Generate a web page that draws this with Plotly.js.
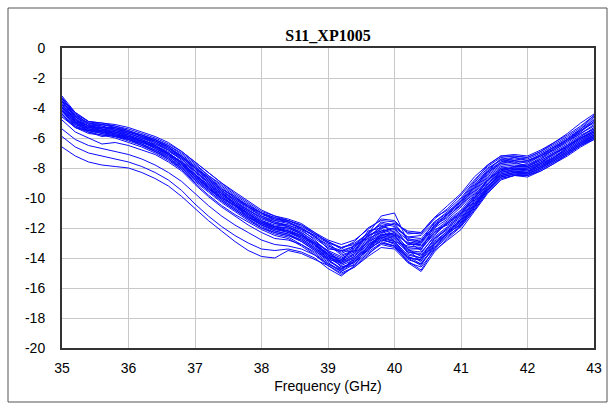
<!DOCTYPE html>
<html>
<head>
<meta charset="utf-8">
<script src="https://cdn.plot.ly/plotly-3.0.1.min.js"></script>
<style>html,body{margin:0;padding:0;background:#fff;}#chart{width:615px;height:410px;}</style>
</head>
<body>
<div id="chart"></div>
<script>
const freq = [35.0,35.2,35.4,35.6,35.8,36.0,36.2,36.4,36.6,36.8,37.0,37.2,37.4,37.6,37.8,38.0,38.2,38.4,38.6,38.8,39.0,39.2,39.4,39.6,39.8,40.0,40.2,40.4,40.6,40.8,41.0,41.2,41.4,41.6,41.8,42.0,42.2,42.4,42.6,42.8,43.0];

const s1 = [-3.2,-4.3,-4.9,-5.0,-5.1,-5.3,-5.6,-5.9,-6.3,-6.9,-7.6,-8.3,-9.0,-9.7,-10.3,-10.9,-11.2,-11.4,-11.7,-12.3,-12.8,-13.1,-12.8,-12.1,-11.4,-11.5,-12.4,-12.3,-11.3,-10.8,-10.0,-8.9,-7.8,-7.2,-7.1,-7.2,-6.8,-6.3,-5.8,-5.2,-4.5];
const s2 = [-3.4,-4.5,-5.0,-5.1,-5.3,-5.5,-5.8,-6.1,-6.5,-7.1,-7.8,-8.5,-9.2,-9.9,-10.5,-11.0,-11.4,-11.6,-12.0,-12.5,-13.0,-13.3,-13.0,-12.4,-11.7,-11.9,-12.6,-12.5,-11.6,-11.0,-10.3,-9.2,-8.1,-7.4,-7.3,-7.4,-7.0,-6.5,-6.0,-5.4,-4.6];
const s3 = [-3.6,-4.6,-5.1,-5.2,-5.4,-5.6,-5.9,-6.2,-6.7,-7.3,-8.1,-8.8,-9.5,-10.1,-10.7,-11.2,-11.6,-11.8,-12.2,-12.7,-13.3,-13.6,-13.2,-12.6,-11.9,-12.1,-12.8,-12.8,-11.9,-11.2,-10.5,-9.5,-8.4,-7.7,-7.6,-7.6,-7.2,-6.7,-6.2,-5.6,-4.9];
const s4 = [-3.5,-4.7,-5.2,-5.3,-5.4,-5.7,-6.0,-6.4,-6.8,-7.4,-8.2,-8.9,-9.6,-10.2,-10.8,-11.3,-11.7,-11.9,-12.3,-12.9,-13.5,-13.9,-13.5,-12.8,-12.2,-12.2,-13.1,-13.1,-12.2,-11.5,-10.8,-9.7,-8.6,-7.9,-7.8,-7.9,-7.5,-7.0,-6.5,-5.9,-5.4];
const s5 = [-3.8,-4.8,-5.2,-5.3,-5.5,-5.7,-6.0,-6.3,-6.8,-7.5,-8.3,-9.0,-9.7,-10.3,-10.9,-11.5,-11.8,-11.9,-12.3,-12.9,-13.6,-14.0,-13.6,-12.9,-12.3,-12.4,-13.0,-13.2,-12.3,-11.6,-10.9,-9.9,-8.7,-8.0,-7.9,-7.9,-7.5,-7.0,-6.5,-5.9,-5.3];
const s6 = [-3.9,-4.9,-5.3,-5.4,-5.6,-5.8,-6.1,-6.5,-7.0,-7.6,-8.4,-9.1,-9.8,-10.4,-11.0,-11.6,-11.9,-12.1,-12.5,-13.1,-13.7,-14.1,-13.7,-13.0,-12.4,-12.5,-13.3,-13.4,-12.4,-11.7,-11.0,-10.0,-8.9,-8.1,-8.0,-8.0,-7.6,-7.1,-6.6,-6.0,-5.5];
const s7 = [-4.0,-5.0,-5.3,-5.5,-5.7,-5.9,-6.2,-6.6,-7.1,-7.7,-8.5,-9.2,-9.9,-10.5,-11.1,-11.7,-12.0,-12.2,-12.6,-13.2,-13.8,-14.2,-13.8,-13.1,-12.5,-12.7,-13.5,-13.6,-12.6,-11.9,-11.3,-10.2,-9.1,-8.3,-8.1,-8.1,-7.7,-7.2,-6.7,-6.1,-5.6];
const s8 = [-4.1,-5.0,-5.4,-5.5,-5.7,-6.0,-6.3,-6.7,-7.2,-7.8,-8.6,-9.3,-10.0,-10.6,-11.2,-11.7,-12.1,-12.3,-12.7,-13.3,-13.9,-14.4,-14.0,-13.2,-12.6,-12.8,-13.6,-13.8,-12.8,-12.0,-11.4,-10.3,-9.2,-8.4,-8.2,-8.2,-7.8,-7.3,-6.8,-6.2,-5.7];
const s9 = [-4.3,-5.1,-5.4,-5.6,-5.8,-6.1,-6.4,-6.8,-7.3,-7.9,-8.7,-9.4,-10.1,-10.7,-11.3,-11.8,-12.2,-12.4,-12.8,-13.4,-14.0,-14.5,-14.1,-13.3,-12.7,-12.9,-13.8,-14.0,-12.9,-12.2,-11.6,-10.5,-9.4,-8.5,-8.3,-8.3,-7.9,-7.4,-6.9,-6.3,-5.8];
const s10 = [-4.4,-5.2,-5.5,-5.7,-5.9,-6.2,-6.5,-6.9,-7.4,-8.0,-8.8,-9.5,-10.2,-10.8,-11.4,-11.9,-12.3,-12.5,-12.9,-13.5,-14.2,-14.7,-14.2,-13.5,-12.8,-13.0,-13.9,-14.2,-13.1,-12.3,-11.8,-10.6,-9.5,-8.6,-8.4,-8.4,-8.0,-7.5,-7.0,-6.4,-5.9];
const s11 = [-4.6,-5.3,-5.6,-5.8,-6.0,-6.3,-6.6,-7.0,-7.5,-8.1,-8.9,-9.6,-10.3,-10.9,-11.5,-12.0,-12.4,-12.6,-13.1,-13.7,-14.4,-14.9,-14.4,-13.6,-13.0,-13.2,-14.1,-14.4,-13.3,-12.5,-11.9,-10.8,-9.6,-8.7,-8.5,-8.5,-8.1,-7.6,-7.1,-6.5,-6.0];
const s12 = [-3.3,-4.4,-5.1,-5.6,-5.9,-6.0,-6.2,-6.4,-6.8,-7.3,-8.0,-8.8,-9.5,-10.2,-10.8,-11.4,-11.7,-11.8,-12.1,-12.8,-13.6,-14.3,-13.1,-12.4,-11.2,-11.0,-12.9,-13.5,-11.8,-11.3,-10.4,-9.3,-8.3,-7.6,-7.5,-7.7,-7.2,-6.8,-6.2,-5.7,-5.1];
const s13 = [-3.7,-4.9,-5.6,-5.9,-5.8,-5.9,-6.2,-6.6,-7.0,-7.6,-8.2,-8.9,-9.6,-10.4,-11.1,-11.6,-11.9,-12.2,-12.7,-13.3,-14.0,-14.2,-13.3,-12.5,-12.1,-12.9,-13.2,-13.3,-12.1,-11.8,-11.2,-10.1,-8.8,-8.2,-7.9,-7.8,-7.4,-6.9,-6.4,-5.8,-5.4];
const s14 = [-3.9,-5.0,-5.3,-5.3,-5.4,-5.6,-5.9,-6.3,-6.7,-7.2,-7.9,-8.7,-9.5,-10.1,-10.6,-11.2,-11.5,-11.7,-12.0,-12.6,-13.2,-13.5,-13.2,-12.3,-11.8,-12.3,-13.0,-12.9,-11.6,-10.9,-10.2,-9.1,-8.2,-7.4,-7.6,-7.9,-7.4,-6.7,-6.1,-5.4,-4.8];
const s15 = [-4.2,-5.1,-5.5,-5.5,-5.6,-5.9,-6.1,-6.5,-7.0,-7.7,-8.6,-9.3,-9.9,-10.5,-11.2,-11.8,-12.1,-12.2,-12.5,-13.0,-13.8,-14.6,-14.3,-13.4,-12.4,-12.6,-13.4,-14.3,-13.4,-12.3,-11.4,-10.2,-9.0,-8.2,-8.0,-8.1,-7.8,-7.3,-6.6,-6.0,-5.6];
const s16 = [-3.4,-4.4,-4.9,-5.0,-5.2,-5.4,-5.7,-6.0,-6.4,-6.9,-7.6,-8.3,-9.0,-9.6,-10.2,-10.8,-11.2,-11.5,-11.9,-12.4,-12.9,-13.3,-13.1,-12.7,-11.9,-11.7,-12.2,-12.3,-11.3,-10.5,-9.7,-8.6,-7.8,-7.2,-7.2,-7.3,-6.9,-6.3,-5.7,-5.0,-4.4];
const s17 = [-4.5,-5.3,-5.7,-5.8,-5.9,-6.1,-6.4,-6.9,-7.4,-8.1,-9.0,-9.8,-10.5,-11.1,-11.6,-12.1,-12.5,-12.7,-13.2,-13.8,-14.5,-15.1,-14.6,-13.8,-13.0,-13.2,-14.3,-14.6,-13.5,-12.8,-12.1,-10.9,-9.7,-8.8,-8.5,-8.5,-8.2,-7.7,-7.1,-6.5,-6.1];
const s18 = [-3.6,-4.8,-5.4,-5.4,-5.5,-5.8,-6.1,-6.5,-6.9,-7.4,-8.2,-9.0,-9.7,-10.3,-10.8,-11.3,-11.6,-11.9,-12.4,-13.1,-13.8,-14.1,-13.4,-12.7,-12.3,-12.0,-13.1,-13.0,-12.0,-11.4,-10.6,-9.6,-8.5,-7.8,-7.7,-7.8,-7.3,-6.8,-6.3,-5.7,-5.2];
const s19 = [-4.0,-5.0,-5.5,-5.7,-5.9,-6.1,-6.3,-6.6,-7.1,-7.9,-8.7,-9.4,-10.0,-10.5,-11.0,-11.6,-12.0,-12.2,-12.5,-13.0,-13.7,-14.6,-14.5,-13.2,-12.5,-12.4,-13.7,-14.0,-12.7,-12.1,-11.5,-10.4,-9.3,-8.3,-8.1,-8.2,-7.9,-7.3,-6.8,-6.2,-5.8];
const s20 = [-3.5,-4.6,-5.0,-5.2,-5.5,-5.7,-6.0,-6.2,-6.6,-7.2,-8.0,-8.6,-9.3,-10.0,-10.6,-11.1,-11.4,-11.5,-11.8,-12.3,-13.0,-13.7,-13.3,-12.5,-11.6,-11.8,-12.7,-12.9,-12.0,-11.0,-10.1,-9.0,-8.0,-7.5,-7.4,-7.5,-7.1,-6.6,-6.1,-5.5,-5.0];
const s21 = [-3.3,-4.6,-5.2,-5.1,-5.2,-5.5,-5.9,-6.1,-6.6,-7.2,-7.9,-8.6,-9.4,-9.9,-10.6,-11.0,-11.5,-11.6,-12.1,-12.5,-13.4,-13.5,-13.6,-12.2,-12.0,-11.7,-12.8,-13.0,-11.8,-11.1,-10.2,-9.3,-8.2,-7.6,-7.3,-7.5,-7.2,-6.6,-6.1,-5.6,-4.7];
const s22 = [-3.8,-4.7,-5.4,-5.6,-5.6,-5.8,-6.3,-6.5,-7.1,-7.6,-8.5,-9.1,-9.7,-10.4,-10.9,-11.5,-11.9,-12.0,-12.4,-13.0,-13.5,-14.4,-13.9,-12.9,-12.0,-12.5,-13.6,-13.7,-12.5,-11.6,-11.0,-9.8,-8.8,-8.0,-8.1,-8.0,-7.7,-7.0,-6.6,-6.0,-5.5];
const s23 = [-4.2,-4.9,-5.2,-5.4,-5.8,-6.0,-6.2,-6.7,-7.1,-7.7,-8.4,-9.3,-10.0,-10.5,-11.3,-11.7,-12.0,-12.3,-12.6,-13.1,-14.1,-14.3,-13.9,-13.1,-12.6,-12.6,-13.4,-13.9,-12.7,-12.0,-11.1,-10.0,-9.1,-8.2,-8.2,-8.3,-7.7,-7.3,-6.7,-6.1,-5.7];
const s24 = [-3.6,-4.5,-5.0,-5.3,-5.3,-5.6,-5.8,-6.2,-6.6,-7.3,-8.0,-8.7,-9.4,-10.0,-10.5,-11.0,-11.3,-11.6,-12.0,-12.6,-13.1,-13.8,-13.5,-12.5,-12.2,-12.0,-12.6,-12.7,-11.7,-11.1,-10.4,-9.4,-8.3,-7.7,-7.5,-7.6,-7.1,-6.6,-6.1,-5.5,-4.9];
const s25 = [-4.1,-5.2,-5.6,-5.6,-5.7,-6.0,-6.4,-6.8,-7.2,-7.8,-8.6,-9.3,-10.1,-10.7,-11.3,-11.8,-12.2,-12.4,-12.9,-13.5,-14.1,-14.8,-14.0,-13.3,-12.6,-12.9,-14.0,-14.1,-13.0,-12.2,-11.5,-10.4,-9.2,-8.5,-8.3,-8.4,-8.0,-7.4,-6.9,-6.3,-5.9];
const s26 = [-3.4,-4.3,-4.9,-5.1,-5.3,-5.6,-5.8,-6.1,-6.5,-7.0,-7.7,-8.5,-9.1,-9.8,-10.4,-11.0,-11.3,-11.5,-11.8,-12.4,-12.9,-13.4,-12.9,-12.0,-11.5,-11.6,-12.3,-12.4,-11.4,-10.7,-9.8,-8.8,-7.9,-7.3,-7.2,-7.3,-6.9,-6.4,-5.9,-5.3,-4.5];
const s27 = [-3.9,-4.8,-5.2,-5.4,-5.6,-5.9,-6.2,-6.6,-7.0,-7.6,-8.5,-9.2,-9.8,-10.4,-11.1,-11.6,-11.9,-12.0,-12.4,-13.1,-13.9,-14.3,-13.7,-12.9,-12.5,-12.3,-13.4,-13.4,-12.3,-11.7,-11.1,-10.0,-8.8,-8.1,-8.0,-8.0,-7.6,-7.1,-6.5,-6.0,-5.6];
const s28 = [-4.4,-5.3,-5.5,-5.6,-5.8,-6.1,-6.5,-6.9,-7.3,-8.0,-8.8,-9.5,-10.2,-10.8,-11.4,-12.0,-12.3,-12.5,-12.8,-13.4,-14.1,-14.7,-14.3,-13.4,-12.7,-13.1,-14.0,-14.1,-13.0,-12.4,-11.7,-10.6,-9.4,-8.6,-8.4,-8.4,-8.0,-7.5,-7.0,-6.4,-6.0];
const o1 = [-4.8,-5.6,-6.0,-6.4,-6.3,-6.5,-6.8,-7.1,-7.6,-8.2,-9.1,-9.9,-10.6,-11.2,-11.8,-12.3,-12.7,-12.8,-13.1,-13.6,-14.3,-14.9,-14.2,-13.5,-12.8,-13.0,-13.9,-14.4,-13.2,-12.4,-11.7,-10.6,-9.4,-8.5,-8.3,-8.4,-8.0,-7.5,-7.0,-6.4,-5.9];
const o2 = [-5.4,-6.1,-6.5,-6.7,-6.9,-7.1,-7.4,-7.8,-8.3,-8.9,-9.7,-10.5,-11.2,-11.8,-12.3,-12.8,-13.1,-13.2,-13.4,-13.8,-14.4,-14.8,-14.1,-13.4,-12.9,-13.2,-14.0,-14.5,-13.1,-12.3,-11.6,-10.5,-9.3,-8.4,-8.2,-8.3,-7.9,-7.4,-6.9,-6.3,-5.8];
const o3 = [-5.9,-6.6,-7.0,-7.2,-7.4,-7.6,-7.9,-8.3,-8.8,-9.5,-10.4,-11.2,-11.9,-12.5,-13.0,-13.4,-13.5,-13.4,-13.6,-14.0,-14.7,-15.2,-14.5,-13.7,-13.1,-13.3,-14.2,-14.8,-13.4,-12.6,-11.8,-10.7,-9.5,-8.6,-8.4,-8.5,-8.1,-7.6,-7.1,-6.5,-6.0];
const o4 = [-6.6,-7.2,-7.6,-7.8,-7.9,-8.0,-8.3,-8.7,-9.2,-9.9,-10.7,-11.5,-12.2,-12.9,-13.5,-13.9,-14.0,-13.5,-13.7,-14.1,-14.5,-15.0,-14.6,-13.9,-13.3,-13.4,-14.3,-14.9,-13.6,-12.7,-11.9,-10.8,-9.6,-8.7,-8.5,-8.6,-8.2,-7.7,-7.2,-6.6,-6.1];

const seriesList = [s1,s2,s3,s4,s5,s6,s7,s8,s9,s10,s11,s12,s13,s14,s15,s16,s17,s18,s19,s20,s21,s22,s23,s24,s25,s26,s27,s28,o1,o2,o3,o4];

const xTicks = [35,36,37,38,39,40,41,42,43];
const yTicks = [0,-2,-4,-6,-8,-10,-12,-14,-16,-18,-20];
const yTickText = ['0','-2','-4','-6','-8','-10','-12','-14','-16','-18','-20'];

const traces = seriesList.map(function(ys){
  return {x: freq, y: ys, type: 'scatter', mode: 'lines',
          line: {color: 'rgb(10,10,255)', width: 1}, hoverinfo: 'skip', showlegend: false};
});

const layout = {
  width: 615, height: 410,
  margin: {l: 62, r: 21, t: 48, b: 62, pad: 0},
  paper_bgcolor: '#ffffff', plot_bgcolor: '#ffffff',
  showlegend: false,
  title: {text: 'S11_XP1005', x: 0.5, xanchor: 'center', y: 1 - 35/410, yanchor: 'middle',
          xref: 'paper',
          font: {family: 'Liberation Serif, Times New Roman, serif', size: 16, color: '#000', weight: 'bold'}},
  xaxis: {range: [35, 43], tickvals: xTicks, ticktext: xTicks.map(String), ticks: '',
          showgrid: true, gridcolor: '#c8c8c8', gridwidth: 1, zeroline: false,
          showline: true, mirror: true, linecolor: '#333', linewidth: 2,
          tickfont: {family: 'Liberation Sans, Arial, sans-serif', size: 14, color: '#000'},
          ticklabelstandoff: 6,
          title: {text: 'Frequency (GHz)', standoff: 6,
                  font: {family: 'Liberation Sans, Arial, sans-serif', size: 14, color: '#000'}}},
  yaxis: {range: [-20, 0], tickvals: yTicks, ticktext: yTickText, ticks: '',
          showgrid: true, gridcolor: '#c8c8c8', gridwidth: 1, zeroline: false,
          showline: true, mirror: true, linecolor: '#333', linewidth: 2,
          tickfont: {family: 'Liberation Sans, Arial, sans-serif', size: 14, color: '#000'},
          ticklabelstandoff: 12},
  shapes: [{type: 'rect', xref: 'paper', yref: 'paper',
            x0: (8-62)/532, x1: (607-62)/532, y0: (348-402)/300, y1: (348-8)/300,
            line: {color: '#555', width: 1}, fillcolor: 'rgba(0,0,0,0)', layer: 'below'}]
};

Plotly.newPlot('chart', traces, layout, {staticPlot: true, displayModeBar: false});
</script>
</body>
</html>
